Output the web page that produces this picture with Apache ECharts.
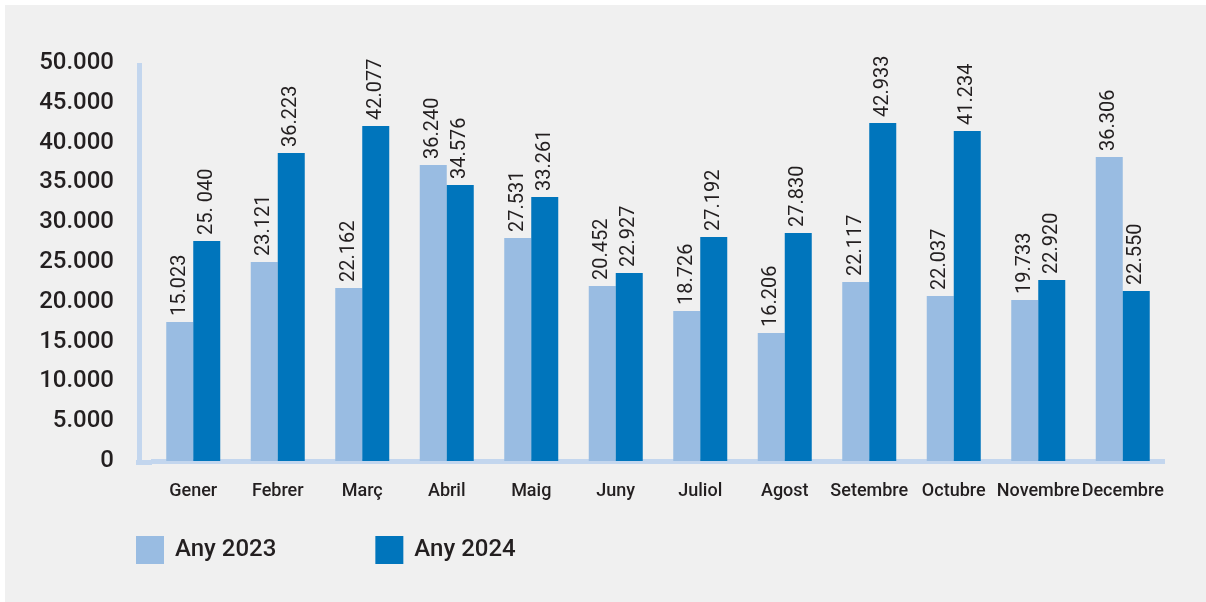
<!DOCTYPE html>
<html>
<head>
<meta charset="utf-8">
<title>Any 2023 / Any 2024</title>
<script src="https://cdn.jsdelivr.net/npm/echarts@6/dist/echarts.min.js"></script>
<style>
  html, body { margin: 0; padding: 0; background: #f0f0f0; }
  #chart { position: absolute; left: 0; top: 0; width: 1206px; height: 602px; }
  /* white frame on top / left edge of the picture */
  .edge { position: absolute; background: #fff; }
  .edge.left { left: 0; top: 0; width: 5px; height: 602px; }
  .edge.top { left: 0; top: 0; width: 1206px; height: 5px; }
</style>
</head>
<body>
<div id="chart"></div>
<div class="edge left"></div>
<div class="edge top"></div>
<script>
  // months
  var months = ['Gener', 'Febrer', 'Març', 'Abril', 'Maig', 'Juny', 'Juliol', 'Agost', 'Setembre', 'Octubre', 'Novembre', 'Decembre'];

  // bar heights as drawn in the picture
  var bars2023 = [17460, 25000, 21730, 37190, 28020, 21980, 18840, 16080, 22490, 20730, 20230, 38190];
  var bars2024 = [27640, 38690, 42090, 34670, 33170, 23620, 28140, 28640, 42460, 41460, 22740, 21360];

  // value labels printed above the bars
  var labels2023 = ['15.023', '23.121', '22.162', '36.240', '27.531', '20.452', '18.726', '16.206', '22.117', '22.037', '19.733', '36.306'];
  var labels2024 = ['25. 040', '36.223', '42.077', '34.576', '33.261', '22.927', '27.192', '27.830', '42.933', '41.234', '22.920', '22.550'];

  var seriesNames = ['Any 2023', 'Any 2024'];

  var yMin = 0, yMax = 50000, yStep = 5000;

  var lightBlue = '#99bce2';
  var darkBlue = '#0075bc';
  var axisBlue = '#c3d6ee';
  var textColor = '#231f20';

  function fmtThousands(v) {
    return String(v).replace(/\B(?=(\d{3})+(?!\d))/g, '.');
  }

  var chart = echarts.init(document.getElementById('chart'));

  function barLabel(texts) {
    return {
      show: true,
      position: 'top',
      distance: 6,
      rotate: 90,
      align: 'left',
      verticalAlign: 'middle',
      fontFamily: 'Roboto',
      fontSize: 20,
      color: textColor,
      formatter: function (p) { return texts[p.dataIndex]; }
    };
  }

  var option = {
    backgroundColor: '#f0f0f0',
    animation: false,
    grid: { left: 151, right: 41, top: 63, bottom: 141, containLabel: false },
    legend: {
      left: 136,
      top: 536,
      padding: 0,
      itemWidth: 28,
      itemHeight: 28,
      itemGap: 99,
      icon: 'rect',
      data: seriesNames,
      textStyle: {
        fontFamily: 'Roboto',
        fontSize: 24,
        fontWeight: 500,
        color: textColor,
        padding: [4, 0, 0, 6]
      }
    },
    xAxis: {
      type: 'category',
      data: months,
      offset: 2,
      axisLine: { show: true, lineStyle: { color: axisBlue, width: 5, cap: 'butt' } },
      axisTick: { show: false },
      axisLabel: {
        margin: 19,
        fontFamily: 'Roboto',
        fontSize: 18,
        fontWeight: 500,
        color: textColor,
        interval: 0
      }
    },
    yAxis: {
      type: 'value',
      min: yMin,
      max: yMax,
      interval: yStep,
      offset: 12,
      axisLine: { show: true, lineStyle: { color: axisBlue, width: 5, cap: 'butt' } },
      axisTick: { show: false },
      splitLine: { show: false },
      axisLabel: {
        margin: 25,
        fontFamily: 'Roboto',
        fontSize: 24,
        fontWeight: 500,
        color: textColor,
        padding: [0, 0, 6, 0],
        formatter: fmtThousands
      }
    },
    graphic: [
      // fills the corner between the y axis line and the start of the x axis line
      { type: 'rect', left: 136, top: 460, shape: { width: 16, height: 5 }, style: { fill: axisBlue }, z: 0 }
    ],
    series: [
      {
        name: seriesNames[0],
        type: 'bar',
        data: bars2023,
        barWidth: 27,
        barGap: '0%',
        itemStyle: { color: lightBlue },
        label: barLabel(labels2023)
      },
      {
        name: seriesNames[1],
        type: 'bar',
        data: bars2024,
        barWidth: 27,
        barGap: '0%',
        itemStyle: { color: darkBlue },
        label: barLabel(labels2024)
      }
    ]
  };

  chart.setOption(option);
</script>
</body>
</html>
